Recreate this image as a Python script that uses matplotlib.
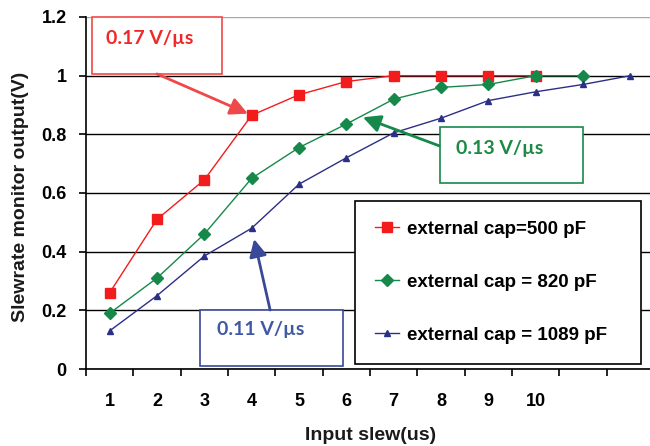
import matplotlib
matplotlib.use("Agg")
import matplotlib.pyplot as plt
from matplotlib.patches import Rectangle
from matplotlib.ticker import FixedLocator

# Input slew categories (1..12 µs); only 1..10 carry a label
categories = list(range(1, 13))
xtick_labels = ["1", "2", "3", "4", "5", "6", "7", "8", "9", "10", "", ""]
ytick_values = [0, 0.2, 0.4, 0.6, 0.8, 1.0, 1.2]
ytick_labels = ["0", "0.2", "0.4", "0.6", "0.8", "1", "1.2"]

# Slewrate monitor output (V) for each external capacitor
cap_500 = [0.26, 0.51, 0.645, 0.865, 0.935, 0.98, 1.0, 1.0, 1.0, 1.0]
cap_820 = [0.19, 0.31, 0.46, 0.65, 0.755, 0.835, 0.92, 0.96, 0.97, 1.0, 1.0]
cap_1089 = [0.13, 0.25, 0.385, 0.48, 0.63, 0.72, 0.805, 0.855, 0.915, 0.945, 0.97, 1.0]

series_labels = ["external cap=500 pF", "external cap = 820 pF", "external cap = 1089 pF"]
slope_labels = ["0.17 V/µs", "0.13 V/µs", "0.11 V/µs"]

RED = "#F21C1C"
GREEN = "#16894A"
BLUE = "#2B2F86"

plt.rcParams["font.family"] = ["Liberation Sans", "DejaVu Sans"]
plt.rcParams["font.weight"] = "bold"

W, H = 650, 446
fig = plt.figure(figsize=(W / 100, H / 100), dpi=100)
ax = fig.add_axes([86 / W, 77 / H, 568 / W, 352 / H])

l1, = ax.plot(categories[:len(cap_500)], cap_500, color=RED, lw=1.0,
              marker="s", ms=7, mfc=RED, mec=RED, zorder=3)
l2, = ax.plot(categories[:len(cap_820)], cap_820, color=GREEN, lw=1.0,
              marker="D", ms=6, mfc=GREEN, mec=GREEN, zorder=3)
l3, = ax.plot(categories[:len(cap_1089)], cap_1089, color=BLUE, lw=1.0,
              marker="^", ms=4.5, mfc=BLUE, mec=BLUE, zorder=3)

ax.set_xlim(0.5, 12.5)
ax.set_ylim(0, 1.2)

# Category axis: labels at the centres, tick marks between categories
ax.set_xticks(categories)
ax.set_xticklabels(xtick_labels, fontsize=13, fontweight="bold")
ax.xaxis.set_minor_locator(FixedLocator([c - 0.5 for c in categories] + [categories[-1] + 0.5]))
ax.tick_params(axis="x", which="major", length=0, pad=17)
ax.tick_params(axis="x", which="minor", length=5, width=1.2, color="black", direction="out")

ax.set_yticks(ytick_values)
ax.set_yticklabels(ytick_labels, fontsize=13, fontweight="bold")
ax.tick_params(axis="y", length=5, width=1.2, color="black", direction="out", pad=9)

ax.yaxis.grid(True, color="black", lw=1.0, zorder=0)
ax.set_axisbelow(True)
ax.get_ygridlines()[-1].set_color("#a8a8a8")

for side in ("top", "right"):
    ax.spines[side].set_visible(False)
for side in ("left", "bottom"):
    ax.spines[side].set_color("black")
    ax.spines[side].set_linewidth(1.2)

fig.text(371 / W, (H - 440) / H, "Input slew(us)", ha="center", va="baseline",
         fontsize=14, fontweight="bold", color="#1a1a1a")
fig.text(21 / W, (H - 197) / H, "Slewrate monitor output(V)", ha="center", va="center",
         rotation=90, fontsize=14, fontweight="bold", color="#1a1a1a")

leg = ax.legend([l1, l2, l3], series_labels, loc="upper left",
                bbox_to_anchor=(355 / W, (H - 201) / H, (641 - 355) / W, 0.0001),
                bbox_transform=fig.transFigure, mode="expand", borderaxespad=0,
                prop={"weight": "bold", "size": 13.5},
                handlelength=1.3, handletextpad=0.4, borderpad=1.05,
                labelspacing=1.92, fancybox=False, framealpha=1, edgecolor="black")
leg.get_frame().set_linewidth(1.2)
leg.set_zorder(6)


def slope_box(x0, y0, x1, y1, tx, ty, text, color, text_color, start, target, shrink):
    ax.add_patch(Rectangle((x0, y0), x1 - x0, y1 - y0, facecolor="white",
                           edgecolor=color, lw=1.2, zorder=4, clip_on=False))
    ax.text(tx, ty, text, ha="left", va="center", color=text_color, fontsize=14,
            fontweight="bold", family=["Lato", "DejaVu Sans"], zorder=5)
    ax.annotate("", xy=target, xytext=start, zorder=5,
                arrowprops=dict(arrowstyle="-|>,head_length=0.7,head_width=0.35",
                                color=color, lw=2.0, mutation_scale=15,
                                shrinkA=0, shrinkB=shrink))


slope_box(0.63, 1.006, 3.37, 1.2, 0.93, 1.125, slope_labels[0], "#F04848", "#F02828",
          (2.0, 1.006), (4, cap_500[3]), 3)
slope_box(7.98, 0.633, 11.0, 0.826, 8.31, 0.753, slope_labels[1], GREEN, "#1A8A45",
          (7.96, 0.761), (6.35, 0.858), 0)
slope_box(2.91, 0.01, 5.92, 0.201, 3.26, 0.133, slope_labels[2], "#3A4898", "#4058A5",
          (4.39, 0.201), (4, cap_1089[3]), 8)

fig.savefig("out.png", dpi=100)
